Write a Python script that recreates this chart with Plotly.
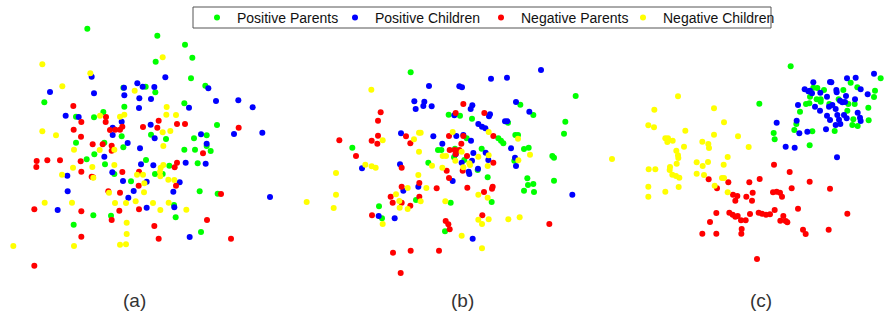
import plotly.graph_objects as go

# ---------- Panel (a) embedding coordinates ----------
a_pos_par_x = [262,472,555,577,467,573,616,437,466,370,133,553,373,310,228,282,651,582,620,453,498,365,228,313,370,553,585,632,620,260,283,438,315,508,593,465,488,343,393,599,653,522,527,280,333,221,603]
a_pos_par_y = [26,47,74,113,125,175,197,200,217,203,247,250,260,276,290,292,315,355,346,344,357,349,368,368,382,389,389,393,378,418,403,420,433,437,430,462,462,462,484,514,521,555,592,586,587,614,636]

a_pos_chi_x = [275,496,412,428,463,372,625,150,282,373,418,453,648,715,758,567,417,197,236,365,452,338,464,338,603,702,787,383,620,420,313,423,460,557,617,337,202,369,440,539,401,520,203,385,440,523,173,810,569]
a_pos_chi_y = [170,172,190,200,201,203,205,216,220,226,235,237,243,241,262,263,264,287,291,305,314,323,355,345,343,342,338,369,371,385,410,433,436,428,431,457,467,483,485,487,513,515,514,533,563,562,570,531,651]

a_neg_par_x = [220,318,244,317,476,531,555,429,472,221,330,346,360,367,243,716,278,308,335,335,609,110,109,142,180,242,244,275,367,417,531,524,416,528,325,360,663,103,244,358,417,335,621,463,244,476,693,103,279]
a_neg_par_y = [258,291,306,306,302,312,312,321,323,329,330,329,329,320,350,323,373,373,377,392,400,423,441,421,421,424,455,470,456,455,428,442,497,497,514,518,522,568,574,572,568,600,600,618,650,656,656,737,472]

a_neg_chi_x = [127,488,271,187,404,500,528,300,360,373,499,127,168,488,511,490,299,222,343,219,277,343,490,482,480,481,186,280,411,429,433,432,505,523,327,134,216,345,378,407,459,506,481,559,380,380,40,222,360,378]
a_neg_chi_y = [133,112,160,199,212,261,285,287,290,284,284,334,346,337,333,378,390,389,389,443,441,435,435,443,455,469,464,473,464,464,490,517,479,480,518,548,548,549,549,544,549,548,570,569,608,642,678,678,674,673]

# ---------- Panel (b) ----------
b_pos_par_x = [332,827,661,700,446,480,516,624,796,792,157,465,414,424,500,595,603,610,646,654,672,686,545,757,762,643,385,462,493,563,682,684,700,672,702,762,348,452,575,237,246,435,533]
b_pos_par_y = [67,138,164,195,194,197,206,218,215,251,293,296,300,300,265,265,272,280,255,255,297,293,296,318,323,332,338,322,330,382,385,405,402,422,426,392,450,458,456,469,505,544,360]

b_pos_chi_x = [723,573,621,387,478,486,343,373,370,347,395,517,512,648,688,463,570,567,535,546,556,615,622,303,400,513,427,469,633,520,557,467,645,648,565,485,516,506,508,534,186,300,458,355,310,817,236,284,518,490]
b_pos_chi_y = [60,86,83,108,109,112,154,155,168,177,169,166,177,156,185,196,193,199,222,230,235,214,214,250,259,272,281,258,295,309,308,313,323,348,330,338,332,365,372,356,355,343,393,410,422,434,498,505,566,255]

b_neg_par_x = [490,467,553,242,234,118,215,232,234,318,331,447,490,484,580,449,464,467,501,168,305,440,447,488,580,358,305,410,502,578,576,552,272,278,305,331,358,216,547,437,445,449,279,332,417,302,748,478]
b_neg_par_y = [162,189,189,187,212,271,272,281,257,259,280,258,258,281,258,300,300,312,318,318,353,362,384,362,338,399,410,415,413,410,416,426,440,458,458,467,440,496,496,513,523,538,608,602,602,669,522,300]

b_neg_chi_x = [214,357,362,342,248,458,566,654,357,485,535,566,690,196,215,227,108,396,427,428,438,466,490,510,563,655,355,323,379,108,20,101,288,298,299,323,362,436,535,563,248,535,546,566,625,659,485,546,508]
b_neg_chi_y = [119,248,248,268,271,246,246,266,305,305,320,316,314,344,349,353,369,347,353,318,318,332,352,345,348,331,375,414,414,434,456,474,433,453,473,477,454,454,434,443,522,509,522,508,508,502,557,595,340]

# ---------- Panel (c) ----------
c_pos_par_x = [572,478,842,752,772,825,822,640,652,672,630,650,662,618,628,600,688,716,745,764,742,805,806,760,757,773,589,583,637,704,521,524,629,730,662]
c_pos_par_y = [49,161,85,98,112,122,141,113,114,120,140,148,148,162,160,185,162,148,162,162,182,173,211,208,225,228,222,240,244,243,249,268,286,120,155]

c_pos_chi_x = [822,741,767,690,694,640,614,625,630,636,661,710,709,738,765,782,803,645,660,594,681,697,687,720,727,735,707,681,690,712,717,740,732,773,780,782,707,721,590,530,598,622,678,557,584,711]
c_pos_chi_y = [71,85,83,96,97,97,118,124,122,130,128,127,120,138,148,118,133,170,182,165,140,165,170,152,157,156,177,197,210,195,209,205,195,188,203,213,225,222,212,218,250,245,238,290,293,322]

c_neg_par_x = [522,569,326,479,385,351,448,629,690,575,399,412,406,439,458,456,519,530,540,546,524,594,742,349,388,398,406,413,423,450,476,486,498,510,541,550,557,562,330,437,425,424,307,349,609,617,686,471]
c_neg_par_y = [344,366,388,387,397,415,397,395,416,415,434,438,452,440,428,452,427,425,428,440,480,476,491,489,488,494,500,498,511,492,488,491,494,493,512,498,513,517,516,511,537,551,551,551,539,552,539,627]

c_neg_chi_x = [234,163,342,145,162,372,256,196,204,202,218,342,414,307,325,327,252,446,229,234,235,36,290,324,383,371,230,210,209,146,166,217,228,238,290,308,312,366,372,344,383,145,236,196,145]
c_neg_chi_y = [139,179,175,226,232,217,242,265,265,276,272,254,259,275,282,294,290,291,302,316,324,327,337,336,321,344,341,351,360,358,358,374,378,383,371,348,375,384,384,407,427,410,411,425,440]

series_names = ["Positive Parents", "Positive Children", "Negative Parents", "Negative Children"]
series_colors = ["#00ff00", "#0000ff", "#ff0000", "#ffff00"]
panel_labels = ["(a)", "(b)", "(c)"]

panels = [
    [(a_pos_par_x, a_pos_par_y), (a_pos_chi_x, a_pos_chi_y), (a_neg_par_x, a_neg_par_y), (a_neg_chi_x, a_neg_chi_y)],
    [(b_pos_par_x, b_pos_par_y), (b_pos_chi_x, b_pos_chi_y), (b_neg_par_x, b_neg_par_y), (b_neg_chi_x, b_neg_chi_y)],
    [(c_pos_par_x, c_pos_par_y), (c_pos_chi_x, c_pos_chi_y), (c_neg_par_x, c_neg_par_y), (c_neg_chi_x, c_neg_chi_y)],
]

W, H = 888, 314
FONT = "Arial, Liberation Sans, Helvetica, sans-serif"
# pixel boxes of each panel: (left, right, top, bottom)
boxes = [(0, 300, 20, 280), (300, 610, 50, 280), (600, 888, 50, 280)]
xranges = [[0, 900], [0, 930], [0, 864]]
yranges = [[780, 0], [690, 0], [690, 0]]
legend_ids = ["legend", "legend2", "legend3", "legend4"]
legend_left_px = [197, 335, 481, 623]

fig = go.Figure()
for p, data in enumerate(panels):
    ax = "" if p == 0 else str(p + 1)
    for s, (xs, ys) in enumerate(data):
        fig.add_trace(go.Scatter(
            x=xs, y=ys, mode="markers", name=series_names[s],
            marker=dict(color=series_colors[s], size=6, line=dict(width=0)),
            xaxis="x" + ax, yaxis="y" + ax, showlegend=(p == 0), legend=legend_ids[s],
            cliponaxis=False, hoverinfo="skip",
        ))
    l, r, t, b = boxes[p]
    common = dict(visible=False, showgrid=False, zeroline=False, fixedrange=True)
    fig.layout["xaxis" + ax] = dict(domain=[l / W, r / W], range=xranges[p], anchor="y" + ax, **common)
    fig.layout["yaxis" + ax] = dict(domain=[(H - b) / H, (H - t) / H], range=yranges[p], anchor="x" + ax, **common)

label_x = [134, 463, 761]
for i, lab in enumerate(panel_labels):
    fig.add_annotation(text=lab, x=label_x[i] / W, y=(H - 300) / H, xref="paper", yref="paper",
                       showarrow=False, xanchor="center", yanchor="middle",
                       font=dict(size=19, color="#333333", family=FONT))

# legend frame
fig.add_shape(type="rect", xref="paper", yref="paper",
              x0=193 / W, x1=771 / W, y0=1 - 28 / H, y1=1 - 7 / H,
              line=dict(color="#555555", width=1), fillcolor="rgba(0,0,0,0)", layer="above")

for i, lid in enumerate(legend_ids):
    fig.layout[lid] = dict(orientation="h", x=legend_left_px[i] / W, y=1 - 18 / H,
                           xanchor="left", yanchor="middle", borderwidth=0,
                           bgcolor="rgba(0,0,0,0)", itemsizing="trace",
                           font=dict(size=14, family=FONT, color="#111111"))

fig.update_layout(
    width=W, height=H,
    margin=dict(l=0, r=0, t=0, b=0),
    paper_bgcolor="white", plot_bgcolor="white",
    font=dict(family=FONT, color="#111111"),
    showlegend=True,
)

fig.write_html("out.html", config={"displayModeBar": False, "staticPlot": True},
               post_script="document.body.style.margin='0';document.body.style.padding='0';")
